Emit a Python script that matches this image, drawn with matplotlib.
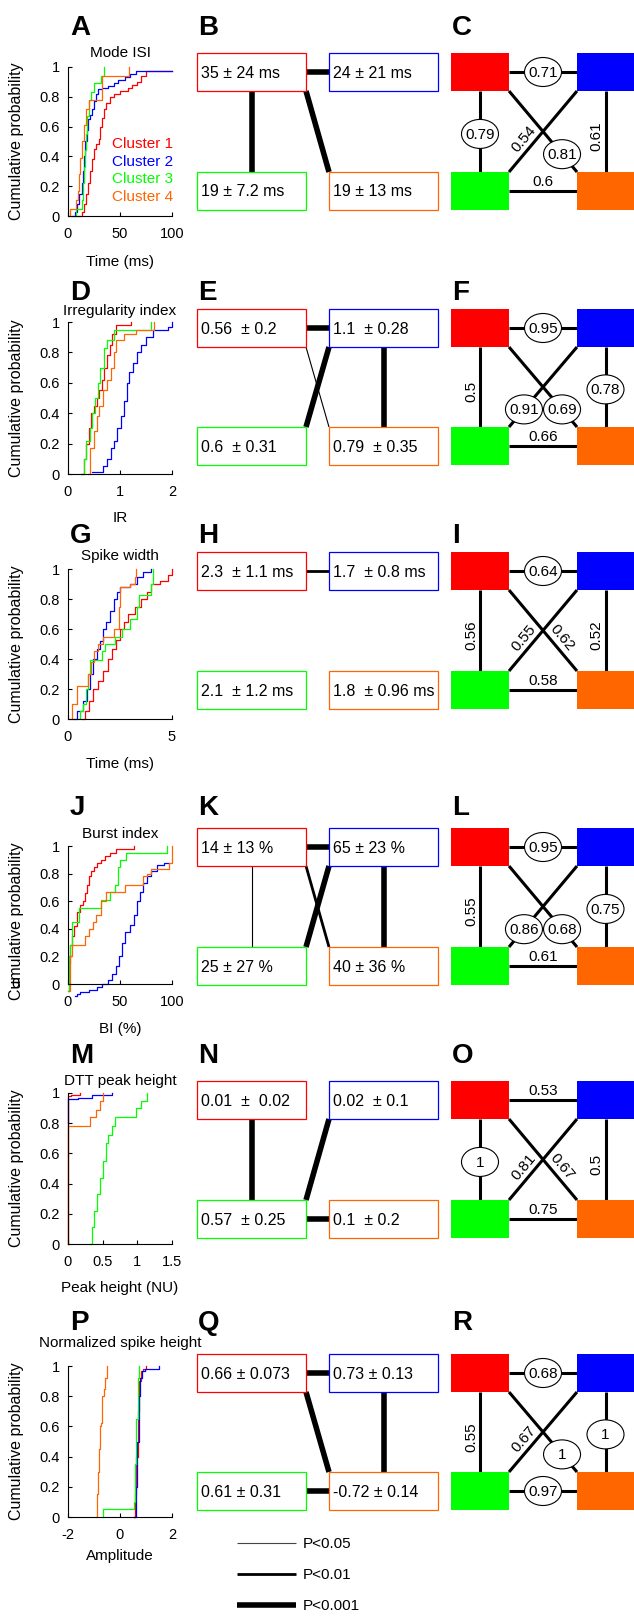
import numpy as np
import matplotlib.pyplot as plt
from matplotlib.patches import Rectangle, Ellipse

plt.rcParams['font.family'] = ['Liberation Sans', 'DejaVu Sans']
plt.rcParams['font.size'] = 10

W, H = 634, 1617

cluster_colors = ['#ff0000', '#0000ff', '#00ff00', '#ff6600']
cluster_names = ['Cluster 1', 'Cluster 2', 'Cluster 3', 'Cluster 4']
panel_letters = [('A', 'B', 'C'), ('D', 'E', 'F'), ('G', 'H', 'I'),
                 ('J', 'K', 'L'), ('M', 'N', 'O'), ('P', 'Q', 'R')]

cdf_titles = ['Mode ISI', 'Irregularity index', 'Spike width', 'Burst index',
              'DTT peak height', 'Normalized spike height']
cdf_xlabels = ['Time (ms)', 'IR', 'Time (ms)', 'BI (%)', 'Peak height (NU)', 'Amplitude']
cdf_xlims = [(0, 100), (0, 2), (0, 5), (0, 100), (0, 1.5), (-2, 2)]
cdf_xticks = [[0, 50, 100], [0, 1, 2], [0, 5], [0, 50, 100], [0, 0.5, 1, 1.5], [-2, 0, 2]]
cdf_xticklabels = [['0', '50', '100'], ['0', '1', '2'], ['0', '5'], ['0', '50', '100'],
                   ['0', '0.5', '1', '1.5'], ['-2', '0', '2']]
cdf_ylow = [0, 0, 0, -0.09, 0, 0]

# step curves, one list per cluster (1..4)
mode_isi_x = [[8, 13, 15, 17, 19, 21, 23, 25, 27, 30, 31, 33, 35, 37, 40, 44, 50, 58, 62, 66, 70, 75, 100],
              [4, 7, 9, 11, 13, 14, 15, 16, 18, 19, 21, 23, 25, 27, 29, 33, 38, 44, 48, 55, 60, 65, 100],
              [7, 8, 13, 14, 15, 16, 17, 18, 20, 22, 25, 32, 35],
              [1, 2, 8, 10, 11, 12, 13, 15, 17, 20, 33, 59]]
mode_isi_y = [[0, 0.03, 0.08, 0.15, 0.22, 0.3, 0.38, 0.45, 0.48, 0.52, 0.6, 0.66, 0.72, 0.76, 0.8, 0.82, 0.84, 0.86, 0.88, 0.9, 0.94, 0.97, 0.97],
              [0, 0.03, 0.08, 0.15, 0.22, 0.3, 0.4, 0.5, 0.58, 0.65, 0.68, 0.72, 0.77, 0.82, 0.85, 0.86, 0.87, 0.89, 0.91, 0.93, 0.95, 0.97, 0.97],
              [0, 0.05, 0.11, 0.22, 0.33, 0.44, 0.55, 0.67, 0.78, 0.83, 0.89, 0.94, 1.0],
              [0, 0.05, 0.11, 0.17, 0.28, 0.39, 0.5, 0.61, 0.72, 0.78, 0.94, 1.0]]

irreg_x = [[0.25, 0.3, 0.35, 0.4, 0.45, 0.5, 0.55, 0.6, 0.65, 0.7, 0.75, 0.8, 0.85, 0.93, 1.21],
           [0.46, 0.68, 0.75, 0.82, 0.88, 0.95, 1.02, 1.08, 1.13, 1.18, 1.25, 1.33, 1.4, 1.5, 1.64, 1.92, 2.0],
           [0.25, 0.3, 0.35, 0.42, 0.47, 0.52, 0.57, 0.62, 0.7, 0.75, 0.88, 1.6],
           [0.38, 0.42, 0.5, 0.55, 0.6, 0.68, 0.75, 0.82, 0.88, 0.92, 1.08, 1.3, 1.65]]
irreg_y = [[0, 0.1, 0.2, 0.3, 0.4, 0.45, 0.5, 0.55, 0.62, 0.7, 0.78, 0.85, 0.92, 0.98, 1.0],
           [0.01, 0.05, 0.1, 0.17, 0.22, 0.3, 0.38, 0.48, 0.6, 0.67, 0.73, 0.8, 0.85, 0.9, 0.95, 0.97, 1.0],
           [0, 0.1, 0.22, 0.3, 0.4, 0.5, 0.6, 0.7, 0.83, 0.88, 0.95, 1.0],
           [0, 0.17, 0.28, 0.38, 0.45, 0.55, 0.62, 0.7, 0.8, 0.88, 0.92, 0.95, 1.0]]

width_x = [[0.65, 0.8, 1.0, 1.2, 1.45, 1.7, 1.9, 2.1, 2.3, 2.5, 2.7, 2.9, 3.2, 3.5, 3.8, 4.0, 4.4, 4.8, 5.0],
           [0.26, 0.45, 0.7, 0.9, 1.05, 1.2, 1.4, 1.55, 1.7, 1.85, 2.0, 2.2, 2.35, 2.5, 3.0, 3.3, 3.6, 4.0],
           [0.55, 0.6, 0.7, 0.85, 0.95, 1.05, 1.65, 1.8, 2.25, 2.6, 3.0, 3.3, 3.4, 4.0, 4.1],
           [0.16, 0.2, 0.45, 0.95, 1.1, 1.25, 1.45, 1.7, 2.2, 2.43, 2.5, 3.0, 3.2, 3.28]]
width_y = [[0, 0.05, 0.12, 0.2, 0.25, 0.32, 0.4, 0.47, 0.53, 0.6, 0.65, 0.7, 0.75, 0.8, 0.85, 0.9, 0.92, 0.96, 1.0],
           [0, 0.05, 0.12, 0.2, 0.3, 0.4, 0.47, 0.52, 0.6, 0.65, 0.72, 0.8, 0.85, 0.88, 0.9, 0.95, 0.98, 1.0],
           [0, 0.05, 0.1, 0.2, 0.3, 0.39, 0.45, 0.5, 0.55, 0.6, 0.67, 0.75, 0.83, 0.9, 1.0],
           [0, 0.1, 0.22, 0.3, 0.38, 0.45, 0.5, 0.55, 0.6, 0.75, 0.88, 0.9, 0.95, 1.0]]

burst_x = [[0, 1, 2, 4, 6, 9, 12, 14, 16, 18, 20, 22, 25, 28, 32, 36, 40, 46, 63],
           [7, 9, 12, 20, 28, 33, 38, 42, 46, 49, 52, 55, 60, 63, 66, 69, 72, 76, 80, 86, 92, 97],
           [0, 1, 2, 4, 11, 32, 40, 45, 48, 50, 56, 95],
           [1, 2, 4, 16, 20, 24, 27, 32, 37, 55, 72, 76, 80, 97, 100]]
burst_y = [[-0.05, 0.15, 0.28, 0.35, 0.42, 0.52, 0.57, 0.6, 0.66, 0.72, 0.78, 0.82, 0.85, 0.88, 0.9, 0.93, 0.95, 0.98, 1.0],
           [-0.09, -0.07, -0.06, -0.04, -0.02, 0.0, 0.03, 0.07, 0.13, 0.2, 0.3, 0.38, 0.43, 0.5, 0.6, 0.67, 0.73, 0.78, 0.82, 0.86, 0.88, 0.88],
           [-0.05, 0.2, 0.28, 0.45, 0.55, 0.61, 0.67, 0.72, 0.85, 0.9, 0.95, 1.0],
           [-0.05, 0.2, 0.28, 0.35, 0.4, 0.45, 0.5, 0.6, 0.67, 0.72, 0.78, 0.8, 0.83, 0.88, 1.0]]

dtt_x = [[0, 0, 0.05, 0.18],
         [0, 0, 0.15, 0.34, 0.64],
         [0.31, 0.34, 0.37, 0.42, 0.46, 0.5, 0.55, 0.58, 0.64, 0.68, 0.98, 1.06, 1.14],
         [0, 0, 0.32, 0.41, 0.46, 0.51]]
dtt_y = [[0, 0.98, 0.99, 1.0],
         [0.8, 0.96, 0.97, 0.99, 1.0],
         [0, 0.11, 0.22, 0.33, 0.44, 0.55, 0.67, 0.72, 0.78, 0.84, 0.9, 0.95, 1.0],
         [0, 0.78, 0.84, 0.89, 0.95, 1.0]]

amp_x = [[0.53, 0.58, 0.63, 0.68, 0.73, 0.8, 0.9, 1.0],
         [0.55, 0.62, 0.67, 0.72, 0.78, 0.85, 0.95, 1.5],
         [-0.64, -0.64, 0.53, 0.58, 0.63, 0.68, 0.72],
         [-0.93, -0.9, -0.86, -0.82, -0.78, -0.72, -0.68, -0.62, -0.57, -0.51]]
amp_y = [[0, 0.15, 0.4, 0.7, 0.9, 0.97, 0.98, 1.0],
         [0, 0.2, 0.5, 0.8, 0.92, 0.97, 0.98, 1.0],
         [0, 0.05, 0.1, 0.35, 0.65, 0.92, 1.0],
         [0, 0.15, 0.3, 0.45, 0.6, 0.62, 0.8, 0.85, 0.92, 1.0]]

cdf_x = [mode_isi_x, irreg_x, width_x, burst_x, dtt_x, amp_x]
cdf_y = [mode_isi_y, irreg_y, width_y, burst_y, dtt_y, amp_y]

# mean +- SD per cluster (1, 2, 3, 4)
mean_sd = [['35 ± 24 ms', '24 ± 21 ms', '19 ± 7.2 ms', '19 ± 13 ms'],
           ['0.56  ± 0.2', '1.1  ± 0.28', '0.6  ± 0.31', '0.79  ± 0.35'],
           ['2.3  ± 1.1 ms', '1.7  ± 0.8 ms', '2.1  ± 1.2 ms', '1.8  ± 0.96 ms'],
           ['14 ± 13 %', '65 ± 23 %', '25 ± 27 %', '40 ± 36 %'],
           ['0.01  ±  0.02', '0.02  ± 0.1', '0.57  ± 0.25', '0.1  ± 0.2'],
           ['0.66 ± 0.073', '0.73 ± 0.13', '0.61 ± 0.31', '-0.72 ± 0.14']]

# significance between clusters: 1 -> P<0.05, 2 -> P<0.01, 3 -> P<0.001
signif = [{(0, 1): 3, (0, 2): 3, (0, 3): 3},
          {(0, 1): 3, (1, 2): 3, (0, 3): 1, (1, 3): 3},
          {(0, 1): 2},
          {(0, 1): 3, (0, 2): 1, (1, 2): 3, (0, 3): 2, (1, 3): 3},
          {(0, 2): 3, (1, 2): 3, (2, 3): 3},
          {(0, 1): 3, (0, 3): 3, (1, 3): 3, (2, 3): 3}]
p_labels = ['P<0.05', 'P<0.01', 'P<0.001']
p_widths = [0.8, 2.0, 4.0]

# correlation values between clusters, circled ones flagged
corr = [[((0, 1), '0.71', True), ((0, 2), '0.79', True), ((1, 2), '0.54', False),
         ((0, 3), '0.81', True), ((1, 3), '0.61', False), ((2, 3), '0.6', False)],
        [((0, 1), '0.95', True), ((0, 2), '0.5', False), ((1, 2), '0.91', True),
         ((0, 3), '0.69', True), ((1, 3), '0.78', True), ((2, 3), '0.66', False)],
        [((0, 1), '0.64', True), ((0, 2), '0.56', False), ((1, 2), '0.55', False),
         ((0, 3), '0.62', False), ((1, 3), '0.52', False), ((2, 3), '0.58', False)],
        [((0, 1), '0.95', True), ((0, 2), '0.55', False), ((1, 2), '0.86', True),
         ((0, 3), '0.68', True), ((1, 3), '0.75', True), ((2, 3), '0.61', False)],
        [((0, 1), '0.53', False), ((0, 2), '1', True), ((1, 2), '0.81', False),
         ((0, 3), '0.67', False), ((1, 3), '0.5', False), ((2, 3), '0.75', False)],
        [((0, 1), '0.68', True), ((0, 2), '0.55', False), ((1, 2), '0.67', False),
         ((0, 3), '1', True), ((1, 3), '1', True), ((2, 3), '0.97', True)]]

# layout in pixels (y measured from the top)
letter_base = [35, 300, 543, 815, 1063, 1330]
letter_x = [70, 198, 452]
box_top = [53, 309, 552, 828, 1081, 1354]
box_top2 = [172, 427, 671, 947, 1200, 1472]
box_h = 38
ax_top = [67, 322, 569, 846, 1093, 1366]
ax_zero = [216, 474, 719, 984, 1244, 1517]
title_y = [52, 310, 555, 833, 1080, 1342]
xlabel_y = [262, 518, 764, 1029, 1288, 1556]
cdf_left, cdf_right = 68, 172
box_cols = [(197, 306), (329, 438)]
sq_cols = [(451, 509), (577, 634)]


def fig_rect(x0, y0, x1, y1):
    return [x0 / W, 1 - y1 / H, (x1 - x0) / W, (y1 - y0) / H]


def rects_for(row, cols):
    out = []
    for k in range(4):
        x0, x1 = cols[k % 2]
        y0 = box_top[row] if k < 2 else box_top2[row]
        out.append((x0, y0, x1, y0 + box_h))
    return out


def endpoints(rc, pair):
    i, j = pair
    a, b = rc[i], rc[j]
    if pair in [(0, 1), (2, 3)]:
        return (a[2], (a[1] + a[3]) / 2), (b[0], (b[1] + b[3]) / 2)
    if pair in [(0, 2), (1, 3)]:
        return ((a[0] + a[2]) / 2, a[3]), ((b[0] + b[2]) / 2, b[1])
    if pair == (0, 3):
        return (a[2], a[3]), (b[0], b[1])
    return (a[0], a[3]), (b[2], b[1])  # (1, 2)


fig = plt.figure(figsize=(W / 100, H / 100), dpi=100)
ov = fig.add_axes([0, 0, 1, 1])
ov.set_xlim(0, W)
ov.set_ylim(H, 0)
ov.axis('off')

for r in range(6):
    # panel letters
    for c in range(3):
        ov.text(letter_x[c], letter_base[r], panel_letters[r][c], fontsize=20,
                fontweight='bold', ha='left', va='baseline')

    # cumulative distribution panel
    ylow = cdf_ylow[r]
    scale = ax_zero[r] - ax_top[r]
    ax_bot = ax_zero[r] - ylow * scale
    ax = fig.add_axes(fig_rect(cdf_left, ax_top[r], cdf_right, ax_bot))
    ax.patch.set_visible(False)
    for k in range(4):
        ax.plot(cdf_x[r][k], cdf_y[r][k], drawstyle='steps-post',
                color=cluster_colors[k], lw=0.9, clip_on=False)
    ax.set_xlim(*cdf_xlims[r])
    ax.set_ylim(ylow, 1)
    ax.set_xticks(cdf_xticks[r])
    ax.set_xticklabels(cdf_xticklabels[r])
    ax.set_yticks([0, 0.2, 0.4, 0.6, 0.8, 1])
    ax.set_yticklabels(['0', '0.2', '0.4', '0.6', '0.8', '1'])
    ax.spines['top'].set_visible(False)
    ax.spines['right'].set_visible(False)
    for s in ['left', 'bottom']:
        ax.spines[s].set_linewidth(0.8)
    if ylow < 0:
        ax.spines['bottom'].set_position(('data', 0))
        ax.spines['left'].set_bounds(0, 1)
    ax.tick_params(direction='in', length=3, width=0.8, labelsize=10.5)
    ax.tick_params(axis='x', pad=8)
    ax.tick_params(axis='y', pad=6)
    hpx = ax_bot - ax_top[r]
    ax.set_title(cdf_titles[r], fontsize=11, pad=(ax_top[r] - title_y[r] - 5) * 0.72)
    ax.set_ylabel('Cumulative probability', fontsize=11.5, va='center')
    ax.yaxis.set_label_coords((17 - cdf_left) / (cdf_right - cdf_left), 0.5)
    ax.set_xlabel(cdf_xlabels[r], fontsize=11, va='center')
    ax.xaxis.set_label_coords(0.5, -(xlabel_y[r] - ax_bot) / hpx)

    # mean +- SD boxes with significance links
    rc = rects_for(r, box_cols)
    for pair, lev in signif[r].items():
        (xa, ya), (xb, yb) = endpoints(rc, pair)
        ov.plot([xa, xb], [ya, yb], color='black', lw=p_widths[lev - 1],
                solid_capstyle='butt', zorder=1)
    for k in range(4):
        x0, y0, x1, y1 = rc[k]
        ov.add_patch(Rectangle((x0, y0), x1 - x0, y1 - y0, facecolor='white',
                               edgecolor=cluster_colors[k], lw=0.9, zorder=2))
        ov.text(x0 + 4, (y0 + y1) / 2 + 1, mean_sd[r][k], fontsize=11.5,
                ha='left', va='center', zorder=3)

    # correlation diagram
    sq = rects_for(r, sq_cols)
    for pair, txt, circled in corr[r]:
        (xa, ya), (xb, yb) = endpoints(sq, pair)
        ov.plot([xa, xb], [ya, yb], color='black', lw=2.2, solid_capstyle='butt', zorder=1)
        dx, dy = xb - xa, yb - ya
        if pair in [(0, 1), (2, 3)]:
            t = 0.5
        elif pair in [(0, 2), (1, 3)]:
            t = 0.53 if circled else 0.56
        else:
            t = 0.78 if circled else 0.67
        px, py = xa + t * dx, ya + t * dy
        if circled:
            ov.add_patch(Ellipse((px, py), 37, 29, facecolor='white',
                                 edgecolor='black', lw=0.8, zorder=3))
            ov.text(px, py + 1, txt, fontsize=11, ha='center', va='center', zorder=4)
        elif pair in [(0, 1), (2, 3)]:
            ov.text(px, py - 9, txt, fontsize=11, ha='center', va='center', zorder=4)
        elif pair in [(0, 2), (1, 3)]:
            ov.text(px - 9, py, txt, fontsize=11, rotation=90, ha='center',
                    va='center', rotation_mode='anchor', zorder=4)
        else:
            L = np.hypot(dx, dy)
            nx, ny = dy / L, -dx / L
            if ny > 0:
                nx, ny = -nx, -ny
            ang = np.degrees(np.arctan2(-dy, dx))
            if ang > 90:
                ang -= 180
            elif ang < -90:
                ang += 180
            ov.text(px + 10 * nx, py + 10 * ny, txt, fontsize=11, rotation=ang,
                    ha='center', va='center', rotation_mode='anchor', zorder=4)
    for k in range(4):
        x0, y0, x1, y1 = sq[k]
        ov.add_patch(Rectangle((x0, y0), x1 - x0, y1 - y0, facecolor=cluster_colors[k],
                               edgecolor='none', zorder=2))

# cluster legend in panel A
for k in range(4):
    ov.text(173, 144 + 17.7 * k, cluster_names[k], color=cluster_colors[k],
            fontsize=11, ha='right', va='center')

# stray zero next to the y label of panel J
ov.text(16, 984, '0', fontsize=10.5, ha='center', va='center')

# significance legend
for i in range(3):
    yy = 1543 + 31 * i
    ov.plot([237, 296], [yy, yy], color='#444444' if i == 0 else 'black',
            lw=p_widths[i], solid_capstyle='butt')
    ov.text(303, yy + 1, p_labels[i], fontsize=11, ha='left', va='center')

fig.savefig('out.png', dpi=100)
